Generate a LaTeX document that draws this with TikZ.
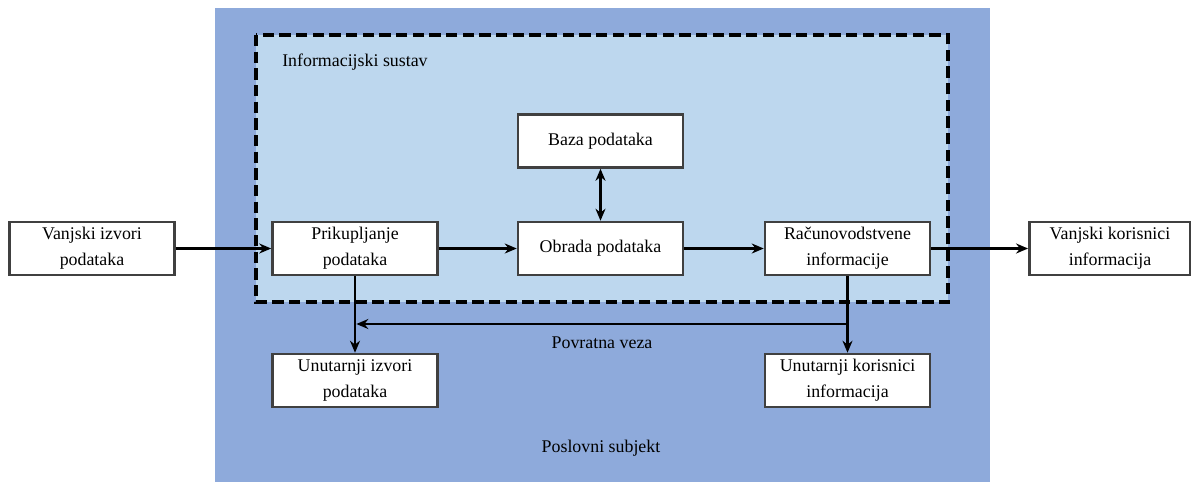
\documentclass[tikz,border=0pt]{standalone}
\usepackage{fontspec}
\setmainfont{Liberation Serif}
\usetikzlibrary{arrows.meta}
\definecolor{outerblue}{HTML}{8EAADB}
\definecolor{innerblue}{HTML}{BDD7EE}
\definecolor{boxline}{HTML}{404040}
\tikzset{
  px/.style={x=0.75pt,y=-0.75pt},
  box/.style={draw=boxline,line width=1.9pt,fill=white,inner sep=0pt,
    minimum width=123.75pt,minimum height=39.75pt,align=center,
    font=\fontsize{13.4}{19.5}\selectfont},
  arr/.style={line width=2pt,-{Stealth[length=9pt,width=7.5pt]}},
  darr/.style={line width=2pt,{Stealth[length=9pt,width=7.5pt]}-{Stealth[length=9pt,width=7.5pt]}},
  lbl/.style={font=\fontsize{13.4}{16}\selectfont,inner sep=0pt}
}
\begin{document}
\begin{tikzpicture}[px]
\useasboundingbox (0,0) rectangle (1191,482);
\fill[white] (0,0) rectangle (1191,482);
\fill[outerblue] (215,8) rectangle (990,482);
\fill[innerblue] (256,35) rectangle (948,302);
\draw[line width=2.4pt,dash pattern=on 8.5pt off 4pt] (256,35) rectangle (948,302);
\node[lbl,anchor=west] (is) at (282,62) {Informacijski sustav};
\node[box] (vi) at (92,248.5) {Vanjski izvori\\podataka};
\node[box] (pp) at (355,248.5) {Prikupljanje\\podataka};
\node[box] (op) at (600.5,248.5) {Obrada podataka};
\node[box] (bp) at (600.5,141) {Baza podataka};
\node[box] (ri) at (847.5,248.5) {Računovodstvene\\informacije};
\node[box,minimum width=121pt] (vk) at (1110,248.5) {Vanjski korisnici\\informacija};
\node[box] (ui) at (355,380.5) {Unutarnji izvori\\podataka};
\node[box] (uk) at (847.5,380.5) {Unutarnji korisnici\\informacija};
\node[lbl] (pv) at (602,343) {Povratna veza};
\node[lbl] (ps) at (601,448) {Poslovni subjekt};
\coordinate (fb) at (600,324);
\draw[arr] (vi) -- (pp);
\draw[arr] (pp) -- (op);
\draw[arr] (op) -- (ri);
\draw[arr] (ri) -- (vk);
\draw[darr] (bp) -- (op);
\draw[arr] (pp) -- (ui);
\draw[arr] (ri) -- (uk);
\draw[arr] (ri.south |- fb) -- ([xshift=1pt]pp.south |- fb);
\end{tikzpicture}
\end{document}
